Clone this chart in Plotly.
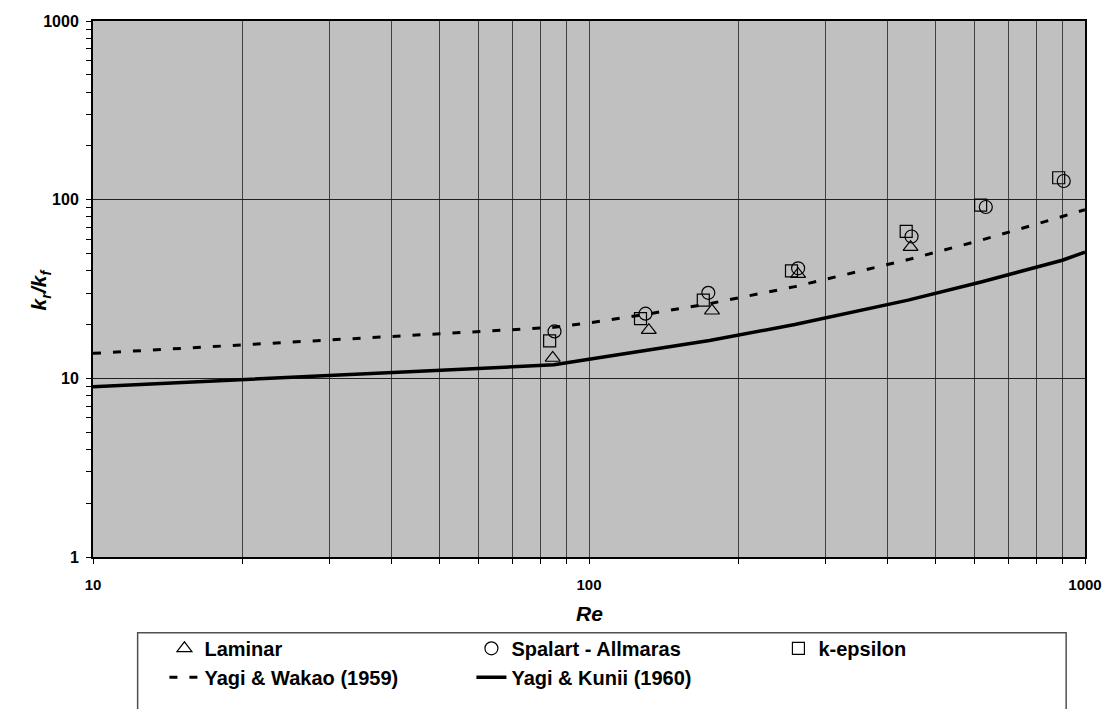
import plotly.graph_objects as go

# ---- data ----
re_lam = [84.5, 132, 177, 264, 445]
k_lam = [13.0, 18.6, 23.9, 38.3, 54.2]

re_sa = [85.2, 130, 174, 264, 447, 631, 906]
k_sa = [18.3, 23.0, 30.1, 41.3, 62.2, 91.0, 127.2]

re_ke = [83.3, 127, 170, 256, 436, 616, 885]
k_ke = [16.2, 21.6, 27.4, 39.9, 66.4, 93.1, 132.6]

re_corr = [10, 85, 100, 130, 175, 260, 440, 620, 900, 1000]
k_wakao = [13.8, 19.3, 20.4, 22.8, 26.2, 32.6, 46.2, 59.5, 80.5, 88.0]
k_kunii = [8.97, 11.9, 12.8, 14.3, 16.3, 20.0, 27.4, 34.7, 45.8, 50.9]

x_major = [10, 100, 1000]
x_major_text = ["10", "100", "1000"]
x_minor = [20, 30, 40, 50, 60, 70, 80, 90, 200, 300, 400, 500, 600, 700, 800, 900]
y_major = [1, 10, 100, 1000]
y_major_text = ["1", "10", "100", "1000"]
y_minor = [2, 3, 4, 5, 6, 7, 8, 9, 20, 30, 40, 50, 60, 70, 80, 90,
           200, 300, 400, 500, 600, 700, 800, 900]

FONT = "Arial, Liberation Sans, sans-serif"

fig = go.Figure()

fig.add_trace(go.Scatter(
    x=re_corr, y=k_wakao, mode="lines", name="Yagi & Wakao (1959)",
    line=dict(color="black", width=3, dash="8px,12px"), legendrank=4))
fig.add_trace(go.Scatter(
    x=re_corr, y=k_kunii, mode="lines", name="Yagi & Kunii (1960)",
    line=dict(color="black", width=3.5), legendrank=5))

fig.add_trace(go.Scatter(
    x=re_lam, y=k_lam, mode="markers", name="Laminar",
    marker=dict(symbol="triangle-up-open", size=13, color="black", line=dict(width=1.2)),
    legendrank=1))
fig.add_trace(go.Scatter(
    x=re_sa, y=k_sa, mode="markers", name="Spalart - Allmaras",
    marker=dict(symbol="circle-open", size=13, color="black", line=dict(width=1.2)),
    legendrank=2))
fig.add_trace(go.Scatter(
    x=re_ke, y=k_ke, mode="markers", name="k-epsilon",
    marker=dict(symbol="square-open", size=12, color="black", line=dict(width=1.2)),
    legendrank=3))

fig.update_layout(
    width=1114, height=709,
    margin=dict(l=93, r=21, t=21, b=136),
    paper_bgcolor="white",
    plot_bgcolor="#C0C0C0",
    font=dict(family=FONT, color="black"),
    showlegend=True,
    legend=dict(
        orientation="h", x=0.072, xanchor="left", y=-0.134, yanchor="top",
        font=dict(family=FONT, size=20, color="black", weight="bold"),
        bgcolor="rgba(0,0,0,0)", borderwidth=0,
        entrywidth=262, entrywidthmode="pixels",
        itemclick=False, itemdoubleclick=False,
    ),
    xaxis=dict(
        type="log", range=[1, 3],
        tickmode="array", tickvals=x_major, ticktext=x_major_text,
        ticks="outside", ticklen=5, tickcolor="black", tickwidth=1,
        showgrid=True, gridcolor="#404040", gridwidth=1,
        minor=dict(tickmode="array", tickvals=x_minor, ticks="outside", ticklen=5,
                   tickcolor="black", tickwidth=1,
                   showgrid=True, gridcolor="#404040", gridwidth=1),
        showline=True, linecolor="black", linewidth=2, mirror=True,
        zeroline=False,
        tickfont=dict(family=FONT, size=15, color="black", weight="bold"),
        ticklabelstandoff=8,
    ),
    yaxis=dict(
        type="log", range=[0, 3],
        tickmode="array", tickvals=y_major, ticktext=y_major_text,
        ticks="outside", ticklen=5, tickcolor="black", tickwidth=1,
        showgrid=True, gridcolor="#202020", gridwidth=1,
        minor=dict(tickmode="array", tickvals=y_minor, ticks="outside", ticklen=5,
                   tickcolor="black", tickwidth=1, showgrid=False),
        showline=True, linecolor="black", linewidth=2, mirror=True,
        zeroline=False,
        tickfont=dict(family=FONT, size=16, color="black", weight="bold"),
        ticklabelstandoff=4,
    ),
    shapes=[dict(
        type="rect", xref="paper", yref="paper",
        x0=0.045, x1=0.981, y0=-0.1413, y1=-0.30,
        line=dict(color="#505050", width=1.5), fillcolor="rgba(0,0,0,0)", layer="above",
    )],
    annotations=[
        dict(text="<b><i>Re</i></b>", x=0.5, y=-0.105, xref="paper", yref="paper",
             xanchor="center", yanchor="middle", showarrow=False,
             font=dict(family=FONT, size=21, color="black")),
        dict(text="<b><i>k<sub>r</sub>/k<sub>f</sub></i></b>", x=-0.053, y=0.5,
             xref="paper", yref="paper", xanchor="center", yanchor="middle",
             textangle=-90, showarrow=False,
             font=dict(family=FONT, size=21, color="black")),
    ],
)

fig.write_html("out.html")
